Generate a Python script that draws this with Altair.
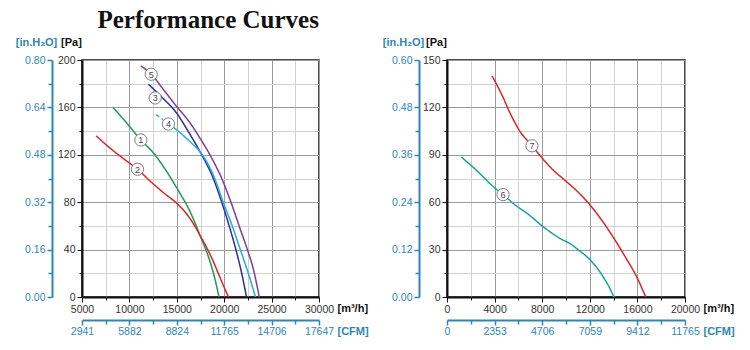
import json
import altair as alt
import pandas as pd

# ---------------- left panel data ----------------
c1_flow = [8260, 9740, 11210, 12540, 13800, 15000, 16400, 17450, 18500, 19000, 19450]
c1_pa = [160, 146.6, 132.5, 121.5, 107.5, 92, 72, 52, 30, 16, 0]
c2_flow = [6500, 7980, 9500, 10850, 12370, 13600, 15000, 16000, 17000, 17450, 18000, 18850, 19400, 19900, 20450]
c2_pa = [136, 125.5, 116, 107.8, 96.5, 88, 79, 70.5, 58.5, 52, 44, 30, 19.5, 10, 0]
c3_flow = [12010, 13500, 15000, 16220, 17450, 18850, 19900, 20600, 21300, 21900, 22350]
c3_pa = [179.5, 168, 155, 139.5, 122.6, 100, 76, 58, 38, 18, 0]
c4d_flow = [12820, 13550]
c4d_pa = [154, 149.5]
c4_flow = [14120, 15000, 16400, 17450, 18850, 19900, 20800, 21660, 22500, 23300]
c4_pa = [146, 141, 131, 122.6, 103, 80, 61, 41, 21, 0]
c5_flow = [11210, 12300, 13600, 15000, 16300, 17450, 18700, 19900, 20800, 21660, 22400, 23060, 23700]
c5_pa = [195, 188, 175, 160.6, 148, 134, 117, 97, 78, 58, 41, 24, 0]

left_label_flow = [11210, 10850, 12720, 14120, 12300]
left_label_pa = [132.5, 107.8, 168, 146, 188]
left_label_text = ["1", "2", "3", "4", "5"]

left_x_major = [5000, 10000, 15000, 20000, 25000, 30000]
left_x_minor = [7500, 12500, 17500, 22500, 27500]
left_x_labels = ["5000", "10000", "15000", "20000", "25000", "30000"]
left_cfm_labels = ["2941", "5882", "8824", "11765", "14706", "17647"]
left_y_major = [0, 40, 80, 120, 160, 200]
left_y_minor = [20, 60, 100, 140, 180]
left_y_labels = ["0", "40", "80", "120", "160", "200"]
left_inh2o_labels = ["0.00", "0.16", "0.32", "0.48", "0.64", "0.80"]

# ---------------- right panel data ----------------
c6_flow = [1200, 2600, 3870, 4710, 5690, 6890, 7930, 8800, 9610, 10400, 11010, 11600, 12130, 12700, 13250, 13650, 14010]
c6_pa = [88.6, 79.3, 70, 64.8, 58.5, 52, 45.4, 40.5, 36.6, 33.5, 30, 26.5, 22.7, 17.5, 11.2, 6, 0]
c7_flow = [3780, 4710, 5200, 5700, 6200, 6700, 7140, 7930, 8900, 9890, 11000, 11990, 13110, 14090, 15060, 15910, 16700]
c7_pa = [140, 126.4, 118, 110.5, 104, 99.5, 95.7, 88.5, 80.5, 74, 66.5, 58.5, 47.5, 36.4, 24.4, 13.2, 0]

right_label_flow = [4710, 7140]
right_label_pa = [64.8, 95.7]
right_label_text = ["6", "7"]

right_x_major = [0, 4000, 8000, 12000, 16000, 20000]
right_x_minor = [2000, 6000, 10000, 14000, 18000]
right_x_labels = ["0", "4000", "8000", "12000", "16000", "20000"]
right_cfm_labels = ["0", "2353", "4706", "7059", "9412", "11765"]
right_y_major = [0, 30, 60, 90, 120, 150]
right_y_minor = [15, 45, 75, 105, 135]
right_y_labels = ["0", "30", "60", "90", "120", "150"]
right_inh2o_labels = ["0.00", "0.12", "0.24", "0.36", "0.48", "0.60"]

# ---------------- styling ----------------
BLUE = "#2f86b5"
SEG_COLORS = {"1": "#1f9a50", "2": "#d8262c", "3": "#2e3192", "4d": "#27aae1",
              "4": "#27aae1", "5": "#7e3f98", "6": "#13a39a", "7": "#d8262c"}
SEG_DASH = {"4d": [4, 3]}
FONT = "Liberation Sans"


def lines_df(segs):
    rows = []
    for name, fl, pa in segs:
        for i, (f, p) in enumerate(zip(fl, pa)):
            rows.append({"seg": name, "flow": f, "pa": p, "i": i})
    return pd.DataFrame(rows)


def lookup_expr(values, labels):
    expr = "''"
    for v, l in reversed(list(zip(values, labels))):
        expr = f"datum.value === {v} ? '{l}' : ({expr})"
    return expr


def is_major(values):
    return f"indexof({json.dumps(values)}, datum.value) >= 0"


def panel(segs, lab_f, lab_p, lab_t, xdom, ydom, xmaj, xmin, xlab, cfm, ymaj, ymin, ylab, inh,
          w, h, inh_offset):
    df = lines_df(segs)
    names = [s[0] for s in segs]
    xvals = sorted(xmaj + xmin)
    yvals = sorted(ymaj + ymin)
    xs = alt.Scale(domain=xdom, nice=False, zero=False)
    ys = alt.Scale(domain=ydom, nice=False, zero=False)

    x_main = alt.Axis(
        values=xvals, labelExpr=lookup_expr(xmaj, xlab), title="[m³/h]",
        titleX=w + 18, titleY=11, titleAlign="left", titleBaseline="middle",
        titleFontWeight="bold", titleFontSize=11, titleColor="#111",
        domainColor="#111", domainWidth=2, tickColor="#111", tickWidth=1,
        tickSize={"condition": {"test": is_major(xmaj), "value": 5}, "value": 3},
        labelColor="#333", labelFontSize=10.5, labelPadding=2, labelFlush=False,
        labelOverlap=False, grid=True,
        gridColor={"condition": {"test": is_major(xmaj), "value": "#9a9a9a"}, "value": "#d0d0d0"},
        gridWidth=1)
    y_main = alt.Axis(
        values=yvals, labelExpr=lookup_expr(ymaj, ylab), title="[Pa]",
        titleAngle=0, titleX=-11, titleY=-18, titleAlign="center", titleBaseline="middle",
        titleFontWeight="bold", titleFontSize=11, titleColor="#111",
        domainColor="#111", domainWidth=2, tickColor="#111", tickWidth=1,
        tickSize={"condition": {"test": is_major(ymaj), "value": 5}, "value": 3},
        labelColor="#333", labelFontSize=10.5, labelPadding=2, labelFlush=False,
        labelOverlap=False, grid=True,
        gridColor={"condition": {"test": is_major(ymaj), "value": "#9a9a9a"}, "value": "#d0d0d0"},
        gridWidth=1)
    x_cfm = alt.Axis(
        orient="bottom", offset=23, values=xvals, labelExpr=lookup_expr(xmaj, cfm),
        title="[CFM]", titleX=w + 18, titleY=11, titleAlign="left", titleBaseline="middle",
        titleFontWeight="bold", titleFontSize=11, titleColor=BLUE,
        domainColor=BLUE, domainWidth=2, tickColor=BLUE, tickWidth=1.5,
        tickSize={"condition": {"test": is_major(xmaj), "value": 5}, "value": 4},
        labelColor=BLUE, labelFontSize=10.5, labelPadding=1, labelFlush=False,
        labelOverlap=False, grid=False)
    y_inh = alt.Axis(
        orient="left", offset=inh_offset, values=yvals, labelExpr=lookup_expr(ymaj, inh),
        title="[in.H₂O]", titleAngle=0, titleX=-16, titleY=-18, titleAlign="center",
        titleBaseline="middle", titleFontWeight="bold", titleFontSize=11, titleColor=BLUE,
        domainColor=BLUE, domainWidth=2, tickColor=BLUE, tickWidth=1.5,
        tickSize={"condition": {"test": is_major(ymaj), "value": 5}, "value": 4},
        labelColor=BLUE, labelFontSize=10.5, labelPadding=2, labelFlush=False,
        labelOverlap=False, grid=False)

    lines = alt.Chart(df).mark_line(strokeWidth=1.5, interpolate="monotone").encode(
        x=alt.X("flow:Q", scale=xs, axis=x_main),
        y=alt.Y("pa:Q", scale=ys, axis=y_main),
        color=alt.Color("seg:N", scale=alt.Scale(domain=names, range=[SEG_COLORS[n] for n in names]),
                        legend=None),
        strokeDash=alt.StrokeDash("seg:N", scale=alt.Scale(domain=names,
                                  range=[SEG_DASH.get(n, [1, 0]) for n in names]), legend=None),
        order=alt.Order("i:Q"),
    )
    ldf = pd.DataFrame({"flow": lab_f, "pa": lab_p, "t": lab_t})
    circles = alt.Chart(ldf).mark_point(shape="circle", filled=True, fill="white", stroke="#707070",
                                        strokeWidth=0.9, size=150, opacity=1).encode(
        x=alt.X("flow:Q", scale=xs, axis=x_cfm),
        y=alt.Y("pa:Q", scale=ys, axis=y_inh),
    )
    texts = alt.Chart(ldf).mark_text(fontSize=9, color="#444", font=FONT, baseline="middle",
                                     align="center", dy=0.5).encode(
        x=alt.X("flow:Q", scale=xs, axis=None),
        y=alt.Y("pa:Q", scale=ys, axis=None),
        text="t:N",
    )
    return alt.layer(lines, circles, texts).resolve_axis(x="independent", y="independent") \
        .resolve_scale(color="independent", strokeDash="independent") \
        .properties(width=w, height=h)


left = panel([("1", c1_flow, c1_pa), ("2", c2_flow, c2_pa), ("3", c3_flow, c3_pa),
              ("4d", c4d_flow, c4d_pa), ("4", c4_flow, c4_pa), ("5", c5_flow, c5_pa)],
             left_label_flow, left_label_pa, left_label_text,
             [5000, 30000], [0, 200], left_x_major, left_x_minor, left_x_labels, left_cfm_labels,
             left_y_major, left_y_minor, left_y_labels, left_inh2o_labels, 237, 237, 30)
right = panel([("6", c6_flow, c6_pa), ("7", c7_flow, c7_pa)],
              right_label_flow, right_label_pa, right_label_text,
              [0, 20000], [0, 150], right_x_major, right_x_minor, right_x_labels, right_cfm_labels,
              right_y_major, right_y_minor, right_y_labels, right_inh2o_labels, 238, 237, 28)

chart = alt.hconcat(left, right, spacing=12).resolve_scale(color="independent", strokeDash="independent") \
    .properties(
        title=alt.TitleParams("Performance Curves", font="Liberation Serif", fontSize=25,
                              fontWeight="bold", color="#111", anchor="start", dx=83, offset=2),
        padding={"left": 14, "top": 8, "right": 5, "bottom": 5},
    ).configure(font=FONT).configure_view(stroke="#111", strokeWidth=1.5)

chart.save("out.html", embed_options={"renderer": "svg", "actions": False})
